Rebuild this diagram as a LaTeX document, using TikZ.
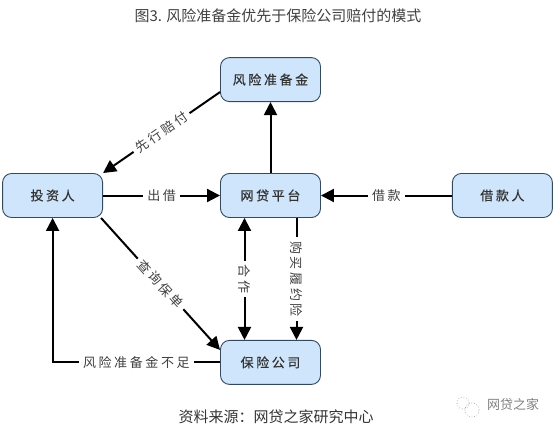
\documentclass[tikz,border=0pt]{standalone}
\usepackage{fontspec}
\usepackage{xcolor}
\usetikzlibrary{arrows.meta,positioning,calc}
\setmainfont{Noto Sans CJK SC}
\newfontfamily\spaced[LetterSpace=20]{Noto Sans CJK SC}
\newfontfamily\spacedbold[LetterSpace=20,FakeBold=0.4]{Noto Sans CJK SC}
\definecolor{boxblue}{HTML}{CFE5FC}
\definecolor{boxline}{HTML}{34495E}

\begin{document}
\begin{tikzpicture}[
    x=1pt,
    y=1pt,
    font=\fontsize{13}{15}\selectfont,
    party/.style={
        draw=boxline,
        rounded corners=9pt,
        align=center,
        line width=0.9pt,
        minimum width=100pt,
        minimum height=44pt,
        fill=boxblue,
        text=black!80,
        font=\fontsize{13}{15}\spacedbold
    },
    line/.style={-{Triangle[length=13pt,width=13pt]}, line width=2pt, black},
    both/.style={{Triangle[length=13pt,width=13pt]}-{Triangle[length=13pt,width=13pt]}, line width=2pt, black},
    tag/.style={fill=white, inner sep=4pt, text=black!75, font=\fontsize{13}{15}\spaced},
    bubble/.style={circle, draw=black!35, dotted, line width=0.7pt, inner sep=0pt}
]
\useasboundingbox (0,0) rectangle (555,-431);

% --- Boxes ---
\node[party] (plat) at (270.5,-195.5) {网贷平台};
\node[party, above=71pt of plat] (reserve) {风险准备金};
\node[party, left=117pt of plat] (investor) {投资人};
\node[party, right=131pt of plat] (borrower) {借款人};
\node[party, below=122pt of plat] (insurer) {保险公司};

% --- Texts ---
\node[font=\fontsize{15}{17}\selectfont, text=black!75] (title) at (278,-16) {图3. 风险准备金优先于保险公司赔付的模式};
\node[font=\fontsize{15}{17}\selectfont, text=black!80] (source) at (276,-417) {资料来源：网贷之家研究中心};
\node[font=\fontsize{13}{15}\selectfont, text=black!50] (mark) at (513,-405) {网贷之家};
\node[bubble, minimum size=12pt] (bubbleA) at (463,-403) {};
\node[bubble, minimum size=14pt] (bubbleB) at (472,-410) {};

% --- Connections ---
\draw[line] ([yshift=10pt]reserve.south west) -- node[tag, sloped]{先行赔付} (investor.north east);
\draw[line] (investor) -- node[tag]{出借} (plat);
\draw[line] (borrower) -- node[tag]{借款} (plat);
\draw[line] (plat) -- (reserve);

\draw[line] ([xshift=-2pt]investor.south east) -- node[tag, sloped]{查询保单} ([yshift=-10pt]insurer.north west);
\draw[both] ([xshift=-26pt]plat.south) -- node[tag, rotate=-90]{合作} ([xshift=-26pt]insurer.north);
\draw[line] ([xshift=26pt]plat.south) -- node[tag, rotate=-90]{购买履约险} ([xshift=26pt]insurer.north);
\draw[line] (insurer.west) -- node[tag]{风险准备金不足} (insurer.west -| investor.south) -- (investor.south);

\end{tikzpicture}
\end{document}
